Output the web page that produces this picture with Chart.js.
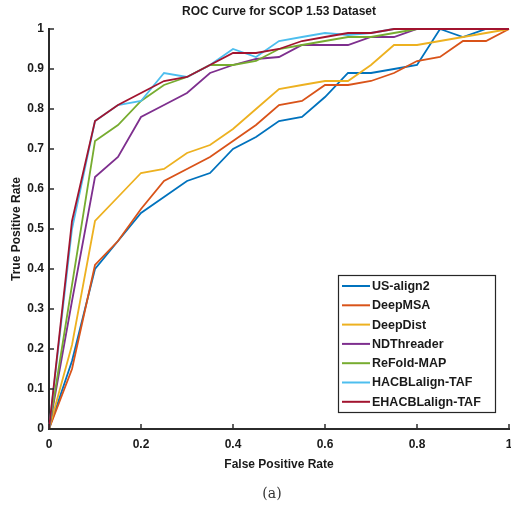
<!DOCTYPE html>
<html>
<head>
<meta charset="utf-8">
<script src="https://cdn.jsdelivr.net/npm/chart.js@4/dist/chart.umd.min.js"></script>
<style>
  html, body { margin: 0; padding: 0; background: #ffffff; }
  #c { display: block; }
</style>
</head>
<body>
<canvas id="c" width="511" height="512"></canvas>
<script>
// ---- data ----
const chartTitle = "ROC Curve for SCOP 1.53 Dataset";
const xTitle = "False Positive Rate";
const yTitle = "True Positive Rate";
const caption = "(a)";

const fpr = [0, 0.05, 0.10, 0.15, 0.20, 0.25, 0.30, 0.35, 0.40, 0.45, 0.50,
             0.55, 0.60, 0.65, 0.70, 0.75, 0.80, 0.85, 0.90, 0.95, 1.00];

const seriesNames = ["US-align2", "DeepMSA", "DeepDist", "NDThreader",
                     "ReFold-MAP", "HACBLalign-TAF", "EHACBLalign-TAF"];

const usAlign2   = [0, 0.17, 0.40, 0.47, 0.54, 0.58, 0.62, 0.64, 0.70, 0.73, 0.77,
                    0.78, 0.83, 0.89, 0.89, 0.90, 0.91, 1.00, 0.98, 1.00, 1.00];
const deepMSA    = [0, 0.15, 0.41, 0.47, 0.55, 0.62, 0.65, 0.68, 0.72, 0.76, 0.81,
                    0.82, 0.86, 0.86, 0.87, 0.89, 0.92, 0.93, 0.97, 0.97, 1.00];
const deepDist   = [0, 0.21, 0.52, 0.58, 0.64, 0.65, 0.69, 0.71, 0.75, 0.80, 0.85,
                    0.86, 0.87, 0.87, 0.91, 0.96, 0.96, 0.97, 0.98, 0.99, 1.00];
const ndThreader = [0, 0.32, 0.63, 0.68, 0.78, 0.81, 0.84, 0.89, 0.91, 0.925, 0.93,
                    0.96, 0.96, 0.96, 0.98, 0.98, 1.00, 1.00, 1.00, 1.00, 1.00];
const refoldMAP  = [0, 0.36, 0.72, 0.76, 0.82, 0.86, 0.88, 0.91, 0.91, 0.92, 0.95,
                    0.96, 0.97, 0.98, 0.98, 0.99, 1.00, 1.00, 1.00, 1.00, 1.00];
const hacbTAF    = [0, 0.50, 0.77, 0.81, 0.82, 0.89, 0.88, 0.91, 0.95, 0.93, 0.97,
                    0.98, 0.99, 0.985, 0.99, 1.00, 1.00, 1.00, 1.00, 1.00, 1.00];
const ehacbTAF   = [0, 0.52, 0.77, 0.81, 0.84, 0.87, 0.88, 0.91, 0.94, 0.94, 0.95,
                    0.97, 0.98, 0.99, 0.99, 1.00, 1.00, 1.00, 1.00, 1.00, 1.00];

const seriesValues = [usAlign2, deepMSA, deepDist, ndThreader, refoldMAP, hacbTAF, ehacbTAF];
const seriesColors = ["#0072BD", "#D95319", "#EDB120", "#7E2F8E", "#77AC30", "#4DBEEE", "#A2142F"];

const xTickStep = 0.2;
const yTickStep = 0.1;

// ---- build datasets ----
const datasets = seriesNames.map((name, i) => ({
  label: name,
  data: fpr.map((x, k) => ({ x: x, y: seriesValues[i][k] })),
  borderColor: seriesColors[i],
  backgroundColor: seriesColors[i],
  borderWidth: 1.8,
  pointRadius: 0,
  pointHoverRadius: 0,
  showLine: true,
  tension: 0,
  fill: false,
  clip: false,
  order: seriesNames.length - 1 - i
}));

const TEXT = "#1a1a1a";
const AXIS = "#2b2b2b";
const fmt = v => String(+Number(v).toFixed(2));

// inward tick marks
const innerTicks = {
  id: "innerTicks",
  afterDraw(chart) {
    const { ctx, chartArea, scales } = chart;
    ctx.save();
    ctx.strokeStyle = AXIS;
    ctx.lineWidth = 1.5;
    scales.x.ticks.forEach(t => {
      const px = scales.x.getPixelForValue(t.value);
      ctx.beginPath();
      ctx.moveTo(px, chartArea.bottom);
      ctx.lineTo(px, chartArea.bottom - 5);
      ctx.stroke();
    });
    scales.y.ticks.forEach(t => {
      const py = scales.y.getPixelForValue(t.value);
      ctx.beginPath();
      ctx.moveTo(chartArea.left, py);
      ctx.lineTo(chartArea.left + 5, py);
      ctx.stroke();
    });
    ctx.restore();
  }
};

// title and caption
const texts = {
  id: "texts",
  afterDraw(chart) {
    const { ctx, chartArea } = chart;
    ctx.save();
    ctx.fillStyle = TEXT;
    ctx.textAlign = "center";
    ctx.textBaseline = "middle";
    ctx.font = "bold 12px 'Liberation Sans', Arial, sans-serif";
    ctx.fillText(chartTitle, (chartArea.left + chartArea.right) / 2, 12);
    ctx.font = "14px 'DejaVu Serif', 'Liberation Serif', serif";
    ctx.fillStyle = "#333";
    ctx.fillText(caption, 272, 494);
    ctx.restore();
  }
};

// legend box inside the plot (MATLAB style, southeast)
const boxLegend = {
  id: "boxLegend",
  afterDraw(chart) {
    const { ctx } = chart;
    const x0 = 338, y0 = 275, w = 157, h = 137;
    ctx.save();
    ctx.fillStyle = "#ffffff";
    ctx.fillRect(x0, y0, w, h);
    ctx.strokeStyle = "#262626";
    ctx.lineWidth = 1.2;
    ctx.strokeRect(x0 + 0.5, y0 + 0.5, w, h);
    ctx.font = "bold 12.5px 'Liberation Sans', Arial, sans-serif";
    ctx.textBaseline = "middle";
    ctx.textAlign = "left";
    chart.data.datasets.forEach((ds, i) => {
      const yy = y0 + 11 + i * 19.3;
      ctx.strokeStyle = ds.borderColor;
      ctx.lineWidth = 2;
      ctx.beginPath();
      ctx.moveTo(x0 + 4, yy);
      ctx.lineTo(x0 + 32, yy);
      ctx.stroke();
      ctx.fillStyle = TEXT;
      ctx.fillText(ds.label, x0 + 34, yy + 0.5);
    });
    ctx.restore();
  }
};

new Chart(document.getElementById("c"), {
  type: "scatter",
  data: { datasets: datasets },
  options: {
    responsive: false,
    animation: false,
    events: [],
    layout: { padding: { top: 29, right: 2, left: 0, bottom: 0 } },
    plugins: {
      legend: { display: false },
      title: { display: false },
      tooltip: { enabled: false }
    },
    scales: {
      x: {
        type: "linear",
        min: 0, max: 1,
        afterFit(scale) { scale.height = 83; scale.paddingLeft = 0; scale.paddingRight = 0; },
        grid: { display: false, drawTicks: false },
        border: { display: true, color: AXIS, width: 2 },
        ticks: {
          stepSize: xTickStep,
          padding: 8,
          color: TEXT,
          callback: fmt,
          font: { family: "'Liberation Sans', Arial, sans-serif", size: 12, weight: "bold" }
        },
        title: {
          display: true,
          text: xTitle,
          color: TEXT,
          padding: { top: 0, bottom: 40 },
          font: { family: "'Liberation Sans', Arial, sans-serif", size: 12, weight: "bold" }
        }
      },
      y: {
        type: "linear",
        min: 0, max: 1,
        afterFit(scale) { scale.width = 49; scale.paddingTop = 0; scale.paddingBottom = 0; },
        grid: { display: false, drawTicks: false },
        border: { display: true, color: AXIS, width: 2 },
        ticks: {
          stepSize: yTickStep,
          padding: 5,
          color: TEXT,
          callback: fmt,
          font: { family: "'Liberation Sans', Arial, sans-serif", size: 12, weight: "bold" }
        },
        title: {
          display: true,
          text: yTitle,
          color: TEXT,
          padding: { top: 9, bottom: 0 },
          font: { family: "'Liberation Sans', Arial, sans-serif", size: 12, weight: "bold" }
        }
      }
    }
  },
  plugins: [innerTicks, texts, boxLegend]
});
</script>
</body>
</html>
